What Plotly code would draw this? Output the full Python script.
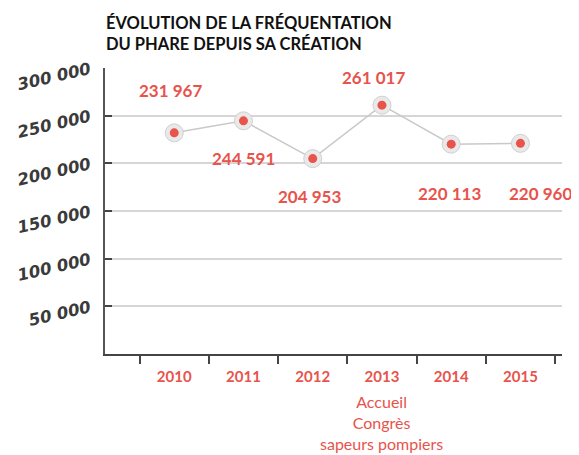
import plotly.graph_objects as go

years = ["2010", "2011", "2012", "2013", "2014", "2015"]
visitors = [231967, 244591, 204953, 261017, 220113, 220960]
value_labels = ["231 967", "244 591", "204 953", "261 017", "220 113", "220 960"]
y_tickvals = [50000, 100000, 150000, 200000, 250000, 300000]
y_ticktext = ["50 000", "100 000", "150 000", "200 000", "250 000", "300 000"]
note_2013 = "Accueil<br>Congrès<br>sapeurs pompiers"
title_text = "ÉVOLUTION DE LA FRÉQUENTATION<br>DU PHARE DEPUIS SA CRÉATION"

RED = "#e8534c"
LABEL_FONT = "Lato, sans-serif"

fig = go.Figure()
fig.add_trace(go.Scatter(
    x=years, y=visitors, mode="lines",
    line=dict(color="#c9c9c9", width=1.5), hoverinfo="skip", showlegend=False))
fig.add_trace(go.Scatter(
    x=years, y=visitors, mode="markers",
    marker=dict(size=18, color="#e9e9e9", line=dict(color="#d0d0d0", width=1)),
    hoverinfo="skip", showlegend=False))
fig.add_trace(go.Scatter(
    x=years, y=visitors, mode="markers",
    marker=dict(size=9, color=RED), showlegend=False))

# label offsets (x shift, y shift) in pixels
offsets = [(-4, 42), (0, -38), (-3, -38), (-8, 28), (-2, -49), (20, -50)]
for i, (v, lab, (dx, dy)) in enumerate(zip(visitors, value_labels, offsets)):
    fig.add_annotation(x=i, y=v, xref="x", yref="y", text=lab, showarrow=False,
                       xshift=dx, yshift=dy,
                       font=dict(family=LABEL_FONT, size=17, color=RED, weight="bold"))

fig.add_annotation(x=years.index("2013"), y=0, xref="x", yref="paper", yanchor="top",
                   yshift=-36, text=note_2013, showarrow=False,
                   font=dict(family=LABEL_FONT, size=16, color=RED))

fig.add_annotation(x=0, y=1, xref="paper", yref="paper", xanchor="left",
                   yanchor="bottom", yshift=12, xshift=-1, align="left",
                   text="<b>" + title_text + "</b>", showarrow=False,
                   font=dict(family="Lato, sans-serif", size=16.5, color="#111111"))

# the page body adds an 8px margin, so the figure is sized and offset to fit the window
fig.update_layout(
    width=571, height=447,
    margin=dict(l=97, r=17, t=60, b=101),
    paper_bgcolor="white", plot_bgcolor="white",
    xaxis=dict(
        type="category", range=[-1.0, 5.6], tickson="boundaries",
        ticks="outside", ticklen=8, tickwidth=2, tickcolor="#444444",
        showgrid=False, showline=True, linecolor="#444444", linewidth=2,
        tickfont=dict(family=LABEL_FONT, size=15, color=RED, weight="bold"),
        ticklabelstandoff=8, automargin=False,
        zeroline=False),
    yaxis=dict(
        range=[0, 300000], tickvals=y_tickvals, ticktext=y_ticktext,
        ticks="inside", ticklen=7, tickwidth=2, tickcolor="#444444",
        showgrid=True, gridcolor="#d6d6d6", gridwidth=1.5,
        showline=True, linecolor="#555555", linewidth=1.5,
        tickangle=-13, ticklabelstandoff=10, automargin=False,
        tickfont=dict(family="DejaVu Sans, sans-serif", size=16.5, color="#3a3a3a",
                      style="italic", weight="bold"),
        zeroline=False),
)

fig.write_html("out.html")
